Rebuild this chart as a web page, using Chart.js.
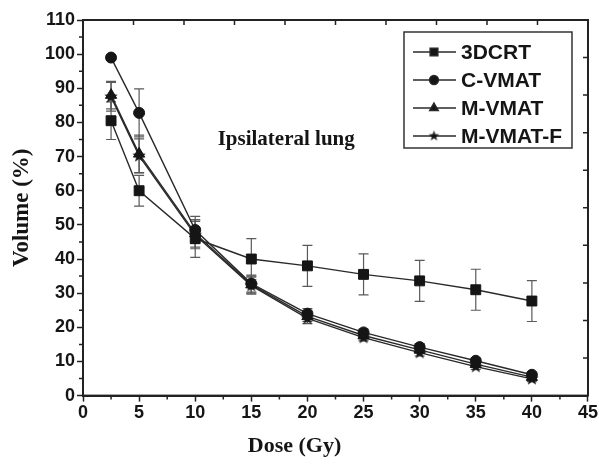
<!DOCTYPE html>
<html>
<head>
<meta charset="utf-8">
<script src="https://cdn.jsdelivr.net/npm/chart.js@4"></script>
<style>
  html, body { margin: 0; padding: 0; background: #fff; }
  #wrap { width: 599px; height: 466px; }
</style>
</head>
<body>
<div id="wrap"><canvas id="doseChart" width="599" height="466"></canvas></div>
<script>
const doses = [2.5, 5, 10, 15, 20, 25, 30, 35, 40];

const crt3d = [80.5, 60, 46, 40, 38, 35.5, 33.6, 31, 27.7];
const crt3dErr = [5.5, 4.5, 5.5, 6, 6, 6, 6, 6, 6];

const cVmat = [99, 82.8, 48.5, 32.8, 24, 18.5, 14.2, 10.2, 6.1];
const cVmatErr = [0.5, 7, 4, 2.5, 1.5, 1, 1, 0.8, 0.8];

const mVmat = [88, 70.8, 47.5, 32.5, 23.2, 17.6, 13.4, 9.2, 5.4];
const mVmatErr = [4, 5.5, 4, 2.5, 1.5, 1, 1, 0.8, 0.8];

const mVmatF = [87.5, 70.2, 47, 32.2, 22.6, 17, 12.6, 8.5, 4.9];
const mVmatFErr = [4.2, 5, 4, 2.5, 1.5, 1, 1, 0.8, 0.8];

const seriesNames = ["3DCRT", "C-VMAT", "M-VMAT", "M-VMAT-F"];
const xTicks = { min: 0, max: 45, step: 5 };
const yTicks = { min: 0, max: 110, step: 10 };
const regionLabel = { text: "Ipsilateral lung", x: 12, y: 75 };

const ink = "#151515";

// filled five-pointed star, Chart.js only has an asterisk
function makeStar(r) {
  const c = document.createElement("canvas");
  c.width = c.height = Math.ceil(r * 2) + 2;
  const g = c.getContext("2d");
  const cx = c.width / 2, cy = c.height / 2;
  g.beginPath();
  for (let i = 0; i < 10; i++) {
    const rad = i % 2 === 0 ? r : r * 0.42;
    const a = -Math.PI / 2 + i * Math.PI / 5;
    g.lineTo(cx + rad * Math.cos(a), cy + rad * Math.sin(a));
  }
  g.closePath();
  g.fillStyle = ink;
  g.fill();
  return c;
}
const starBig = makeStar(7);
const starSmall = makeStar(5.5);

const styles = [
  { pointStyle: "rect", pointRadius: 7, legendRadius: 5.5 },
  { pointStyle: "circle", pointRadius: 5.5, legendRadius: 4.5 },
  { pointStyle: "triangle", pointRadius: 6.5, legendRadius: 5 },
  { pointStyle: starBig, pointRadius: 7, legendRadius: 5.5, legendImg: starSmall }
];

const values = [crt3d, cVmat, mVmat, mVmatF];
const errors = [crt3dErr, cVmatErr, mVmatErr, mVmatFErr];

const datasets = seriesNames.map((name, i) => ({
  label: name,
  data: doses.map((d, j) => ({ x: d, y: values[i][j] })),
  borderColor: "#2a2a2a",
  borderWidth: 1.4,
  backgroundColor: ink,
  pointBackgroundColor: ink,
  pointBorderColor: ink,
  pointBorderWidth: 1,
  pointStyle: styles[i].pointStyle,
  pointRadius: styles[i].pointRadius,
  tension: 0,
  fill: false
}));

const errorBars = {
  id: "errorBars",
  beforeDatasetsDraw(chart) {
    const { ctx, scales: { x, y } } = chart;
    ctx.save();
    ctx.strokeStyle = "#5a5a5a";
    ctx.lineWidth = 1.2;
    errors.forEach((errs, i) => {
      doses.forEach((d, j) => {
        const px = x.getPixelForValue(d);
        const top = y.getPixelForValue(values[i][j] + errs[j]);
        const bot = y.getPixelForValue(values[i][j] - errs[j]);
        ctx.beginPath();
        ctx.moveTo(px, top); ctx.lineTo(px, bot);
        ctx.moveTo(px - 5, top); ctx.lineTo(px + 5, top);
        ctx.moveTo(px - 5, bot); ctx.lineTo(px + 5, bot);
        ctx.stroke();
      });
    });
    ctx.restore();
  }
};

const frame = {
  id: "frame",
  afterDraw(chart) {
    const { ctx, chartArea: a, scales: { x, y } } = chart;
    ctx.save();
    ctx.strokeStyle = "#222";
    ctx.lineWidth = 2;
    ctx.strokeRect(a.left, a.top, a.right - a.left, a.bottom - a.top);

    ctx.lineWidth = 1.5;
    ctx.beginPath();
    // minor ticks, outside
    for (let v = xTicks.step / 2; v < xTicks.max; v += xTicks.step) {
      const px = x.getPixelForValue(v);
      ctx.moveTo(px, a.bottom); ctx.lineTo(px, a.bottom + 4);
    }
    for (let v = yTicks.step / 2; v < yTicks.max; v += yTicks.step) {
      const py = y.getPixelForValue(v);
      ctx.moveTo(a.left, py); ctx.lineTo(a.left - 4, py);
    }
    // top and right mirror axes, ten divisions, ticks inward
    for (let k = 1; k < 10; k++) {
      const px = a.left + (a.right - a.left) * k / 10;
      ctx.moveTo(px, a.top); ctx.lineTo(px, a.top + 5);
      const py = a.bottom - (a.bottom - a.top) * k / 10;
      ctx.moveTo(a.right, py); ctx.lineTo(a.right - 5, py);
    }
    ctx.stroke();

    // region label
    ctx.fillStyle = ink;
    ctx.font = "bold 21px 'Liberation Serif', 'Times New Roman', serif";
    ctx.textBaseline = "middle";
    ctx.textAlign = "left";
    ctx.fillText(regionLabel.text, x.getPixelForValue(regionLabel.x), y.getPixelForValue(regionLabel.y));

    // legend
    const bx = a.right - 184, by = a.top + 12, bw = 168, bh = 116;
    ctx.lineWidth = 1.5;
    ctx.strokeStyle = "#333";
    ctx.strokeRect(bx, by, bw, bh);
    ctx.font = "bold 21px 'Liberation Sans', Arial, sans-serif";
    seriesNames.forEach((name, i) => {
      const ly = by + 20 + i * 28;
      ctx.beginPath();
      ctx.strokeStyle = "#2a2a2a";
      ctx.lineWidth = 1.4;
      ctx.moveTo(bx + 9, ly); ctx.lineTo(bx + 52, ly);
      ctx.stroke();
      const st = styles[i];
      Chart.helpers.drawPoint(ctx, {
        pointStyle: st.legendImg || st.pointStyle,
        radius: st.legendRadius,
        rotation: 0,
        borderWidth: 1
      }, bx + 30, ly);
      ctx.fillStyle = ink;
      ctx.fillText(name, bx + 57, ly + 1);
    });
    ctx.restore();
  }
};

Chart.defaults.font.family = "'Liberation Sans', Arial, sans-serif";
Chart.defaults.color = ink;

new Chart(document.getElementById("doseChart").getContext("2d"), {
  type: "line",
  data: { datasets },
  options: {
    responsive: false,
    animation: false,
    layout: { padding: { top: 20, right: 10, left: 0, bottom: 0 } },
    plugins: {
      legend: { display: false },
      tooltip: { enabled: false },
      title: {
        display: true,
        position: "bottom",
        text: "Dose (Gy)",
        color: ink,
        font: { family: "'Liberation Serif', 'Times New Roman', serif", size: 22, weight: "bold" },
        padding: { top: 7, bottom: 6 }
      }
    },
    scales: {
      x: {
        type: "linear",
        min: xTicks.min,
        max: xTicks.max,
        ticks: { stepSize: xTicks.step, color: ink, font: { size: 18, weight: "bold" }, padding: 1, maxRotation: 0 },
        grid: { drawOnChartArea: false, tickLength: 6, tickWidth: 1.5, tickColor: "#222" },
        border: { display: true, color: "#222", width: 2 },
        afterFit(scale) { scale.height = 31; }
      },
      y: {
        min: yTicks.min,
        max: yTicks.max,
        ticks: { stepSize: yTicks.step, color: ink, font: { size: 18, weight: "bold" }, padding: 2 },
        grid: { drawOnChartArea: false, tickLength: 6, tickWidth: 1.5, tickColor: "#222" },
        border: { display: true, color: "#222", width: 2 },
        title: {
          display: true,
          text: "Volume (%)",
          color: ink,
          font: { family: "'Liberation Serif', 'Times New Roman', serif", size: 23, weight: "bold" },
          padding: { top: 8, bottom: 0 }
        },
        afterFit(scale) { scale.width = 83; }
      }
    }
  },
  plugins: [errorBars, frame]
});
</script>
</body>
</html>
